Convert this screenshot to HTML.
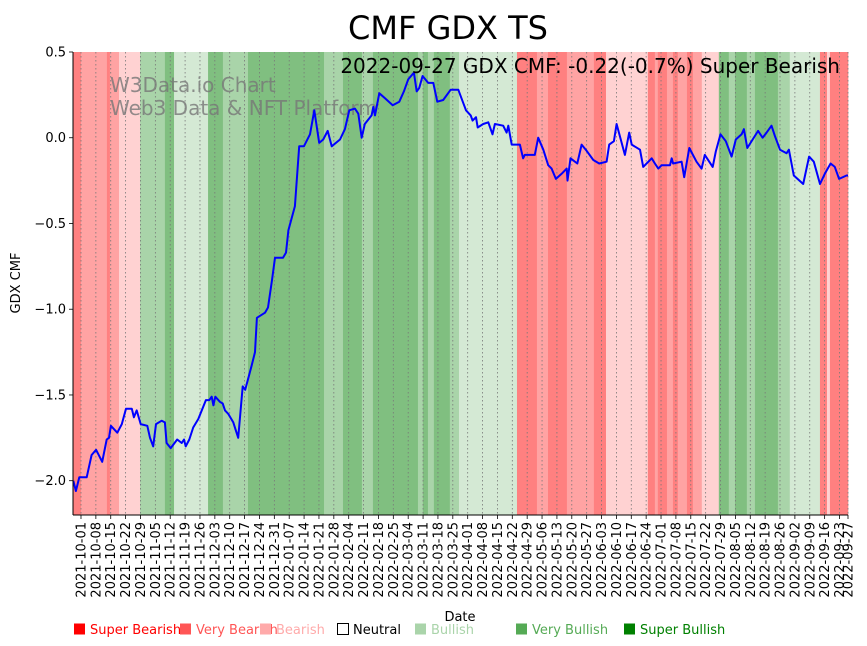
<!DOCTYPE html>
<html><head><meta charset="utf-8"><style>
body{margin:0;background:#fff;}
svg{display:block;font-family:"DejaVu Sans","Liberation Sans",sans-serif;}
</style></head><body>
<svg id="chart" width="867" height="646" viewBox="0 0 867 646">
<text x="448" y="39" font-size="32" text-anchor="middle">CMF GDX TS</text>
<g id="bands"></g>
<g id="grid"></g>
<text x="110" y="92" font-size="20" fill="#777" fill-opacity="0.8">W3Data.io Chart</text>
<text x="110" y="115" font-size="20" fill="#777" fill-opacity="0.8">Web3 Data &amp; NFT Platform</text>
<path id="line" fill="none" stroke="#0000ff" stroke-width="2" stroke-linejoin="round"/>
<text x="840" y="73" font-size="20" text-anchor="end">2022-09-27 GDX CMF: -0.22(-0.7%) Super Bearish</text>
<g id="yaxis"></g>
<g id="xaxis"></g>
<text transform="translate(20,283) rotate(-90)" font-size="13" text-anchor="middle">GDX CMF</text>
<text x="460" y="621" font-size="13" text-anchor="middle">Date</text>
<g id="legend"></g>
</svg>
<script>
const bandStarts=[-4,0,12.2,13.6,17.9,27.8,39.5,43.8,59.8,66.8,78.6,114.4,123.3,132.2,137.4,158.6,160.9,163.3,166.1,173.6,177.9,205.2,214.6,219.8,228.7,241.4,247.1,266.8,270.1,271.5,275.8,278.6,280.9,285.2,288,292.2,300.2,304.9,307.8,313.4,317.2,328,333.6,347.8,351.1,352.5];
const bandCats=["SB","VB","SB","VB","B","VBu","SBu","Bu","SBu","VBu","SBu","VBu","SBu","VBu","SBu","VBu","SBu","VBu","SBu","VBu","Bu","SB","VB","SB","VB","SB","B","SB","VB","SB","VB","SB","VB","SB","VB","B","SBu","VBu","SBu","VBu","SBu","VBu","Bu","SB","B","SB"];
const lineDays=[-3.6,-2.4,-0.8,2.7,5.0,7.1,10.0,12.1,13.2,14.1,17.1,19.2,21.2,23.9,24.9,26.2,28.1,31.2,32.5,34.0,35.3,38.0,39.5,40.3,42.2,45.3,47.4,48.5,49.3,51.0,52.8,55.2,58.8,60.4,61.5,62.3,63.2,65.4,66.7,67.8,69.3,71.7,74.0,76.1,77.3,80.3,81.9,82.8,86.6,88.0,89.9,91.3,95.1,96.5,97.6,100.7,102.7,104.9,107.8,109.8,112.1,114.0,116.1,118.0,121.9,124.2,126.3,128.9,130.5,132.1,133.6,136.8,137.6,138.4,140.4,143.1,146.7,149.8,152.0,154.0,156.7,158.0,159.2,160.8,163.4,165.8,167.7,170.5,174.0,177.6,179.1,181.2,183.4,184.3,185.9,186.7,189.3,191.7,193.7,194.8,198.7,200.3,201.1,202.7,206.6,208.1,208.9,213.6,215.2,217.6,219.9,221.5,223.5,226.2,228.6,229.0,230.4,233.6,235.6,237.6,241.1,243.9,247.4,248.6,250.8,252.1,256.0,258.0,259.2,263.1,264.6,268.6,270.1,271.7,273.3,277.2,278.0,278.7,282.7,283.9,286.3,289.7,292.1,293.6,297.3,298.8,301.0,303.5,306.2,308.2,310.9,312.0,313.6,318.7,320.8,322.7,325.0,326.6,329.0,332.1,333.2,335.5,339.9,342.7,344.9,347.8,350.1,352.8,354.8,356.8,360.3,361];
const lineVals=[-2.00,-2.06,-1.98,-1.98,-1.85,-1.82,-1.89,-1.76,-1.75,-1.68,-1.72,-1.67,-1.58,-1.58,-1.63,-1.59,-1.67,-1.68,-1.75,-1.80,-1.67,-1.65,-1.66,-1.78,-1.81,-1.76,-1.78,-1.76,-1.80,-1.76,-1.69,-1.64,-1.53,-1.53,-1.51,-1.56,-1.51,-1.54,-1.55,-1.59,-1.61,-1.66,-1.75,-1.45,-1.47,-1.33,-1.25,-1.05,-1.02,-0.99,-0.83,-0.70,-0.70,-0.67,-0.54,-0.40,-0.05,-0.05,0.02,0.16,-0.03,-0.01,0.04,-0.05,-0.01,0.05,0.16,0.17,0.14,0.00,0.08,0.13,0.18,0.13,0.26,0.23,0.19,0.21,0.27,0.34,0.38,0.27,0.29,0.36,0.32,0.32,0.21,0.22,0.28,0.28,0.23,0.16,0.13,0.10,0.12,0.06,0.08,0.09,0.02,0.08,0.07,0.03,0.07,-0.04,-0.04,-0.12,-0.10,-0.10,0.00,-0.07,-0.16,-0.18,-0.24,-0.21,-0.18,-0.25,-0.12,-0.15,-0.04,-0.07,-0.13,-0.15,-0.14,-0.04,-0.02,0.08,-0.10,0.03,-0.04,-0.07,-0.17,-0.12,-0.15,-0.18,-0.16,-0.16,-0.12,-0.15,-0.14,-0.23,-0.06,-0.14,-0.18,-0.10,-0.17,-0.08,0.02,-0.02,-0.11,-0.01,0.02,0.05,-0.06,0.04,0.00,0.03,0.07,0.01,-0.07,-0.09,-0.07,-0.22,-0.27,-0.11,-0.14,-0.27,-0.21,-0.15,-0.17,-0.24,-0.22,-0.22];
const yTicks=[0.5,0,-0.5,-1,-1.5,-2];
const yTickLabels=["0.5","0.0","\u22120.5","\u22121.0","\u22121.5","\u22122.0"];
const legendLabels=["Super Bearish","Very Bearish","Bearish","Neutral","Bullish","Very Bullish","Super Bullish"];

const NS="http://www.w3.org/2000/svg";
const X0=73,X1=848,Y0=52,Y1=515,D0=-3.76,D1=361,V0=-2.2,V1=0.5;
const x=d=>X0+(d-D0)/(D1-D0)*(X1-X0);
const y=v=>Y1-(v-V0)/(V1-V0)*(Y1-Y0);
const bandColor={SB:"#ff8080",VB:"#ffa3a3",B:"#ffd2d2",Bu:"#d4e9d4",VBu:"#a9d4a9",SBu:"#80bf80"};
function mk(tag,attrs,parent){const e=document.createElementNS(NS,tag);for(const k in attrs)e.setAttribute(k,attrs[k]);parent.appendChild(e);return e;}

const bg=document.getElementById('bands');
bandStarts.forEach((s,i)=>{
  const e=bandStarts[i+1]!==undefined?bandStarts[i+1]:D1;
  const a=Math.max(x(s),X0),b=x(e);
  const r=mk('rect',{x:a,y:Y0,width:b-a+0.3,height:Y1-Y0,fill:bandColor[bandCats[i]]},bg);
  
  
});

const gg=document.getElementById('grid'),xa=document.getElementById('xaxis');
const start=new Date(Date.UTC(2021,9,1));
const tickDays=[];for(let d=0;d<=357;d+=7)tickDays.push(d);tickDays.push(361);
tickDays.forEach(d=>{
  const px=x(d);
  const gl=mk('line',{x1:px,x2:px,y1:Y0,y2:Y1,stroke:"#777","stroke-width":0.8,"stroke-dasharray":"1.5,2.5"},gg);
  
  
  mk('line',{x1:px,x2:px,y1:Y1,y2:Y1+4,stroke:"#000","stroke-width":0.8},xa);
  const dt=new Date(start.getTime()+d*86400000);
  const s=dt.toISOString().slice(0,10);
  const t=mk('text',{transform:`translate(${px+4.5},${Y1+7}) rotate(-90)`,"font-size":13,"text-anchor":"end"},xa);
  
  
  t.textContent=s;
});
mk('line',{x1:X0,x2:X1,y1:Y1,y2:Y1,stroke:"#000","stroke-width":1},xa);

const ya=document.getElementById('yaxis');
mk('line',{x1:X0,x2:X0,y1:Y0,y2:Y1,stroke:"#000","stroke-width":1},ya);
yTicks.forEach((v,i)=>{
  mk('line',{x1:X0-4,x2:X0,y1:y(v),y2:y(v),stroke:"#000","stroke-width":0.8},ya);
  const t=mk('text',{x:X0-7,y:y(v)+4.5,"font-size":13,"text-anchor":"end"},ya);
  
  
  t.textContent=yTickLabels[i];
});

document.getElementById('line').setAttribute('d',lineDays.map((d,i)=>(i?'L':'M')+x(d).toFixed(1)+','+y(lineVals[i]).toFixed(1)).join(''));

const lg=document.getElementById('legend');
const lx=[74,180,260,337,415,516,624];
const sq=["#ff0000","#ff5555","#ffaaaa","#ffffff","#aad4aa","#55aa55","#008000"];
const tc=["#ff0000","#ff5555","#ffaaaa","#000000","#aad4aa","#55aa55","#008000"];
legendLabels.forEach((l,i)=>{
  const g=mk('g',{},lg);
  
  
  mk('rect',{x:lx[i]+(i==3?0.5:0),y:623.5,width:11,height:11,fill:sq[i],stroke:i==3?"#000":"none","stroke-width":1},g);
  const t=mk('text',{x:lx[i]+16,y:634,"font-size":13,fill:tc[i]},g);
  t.textContent=l;
});
</script>
</body></html>
